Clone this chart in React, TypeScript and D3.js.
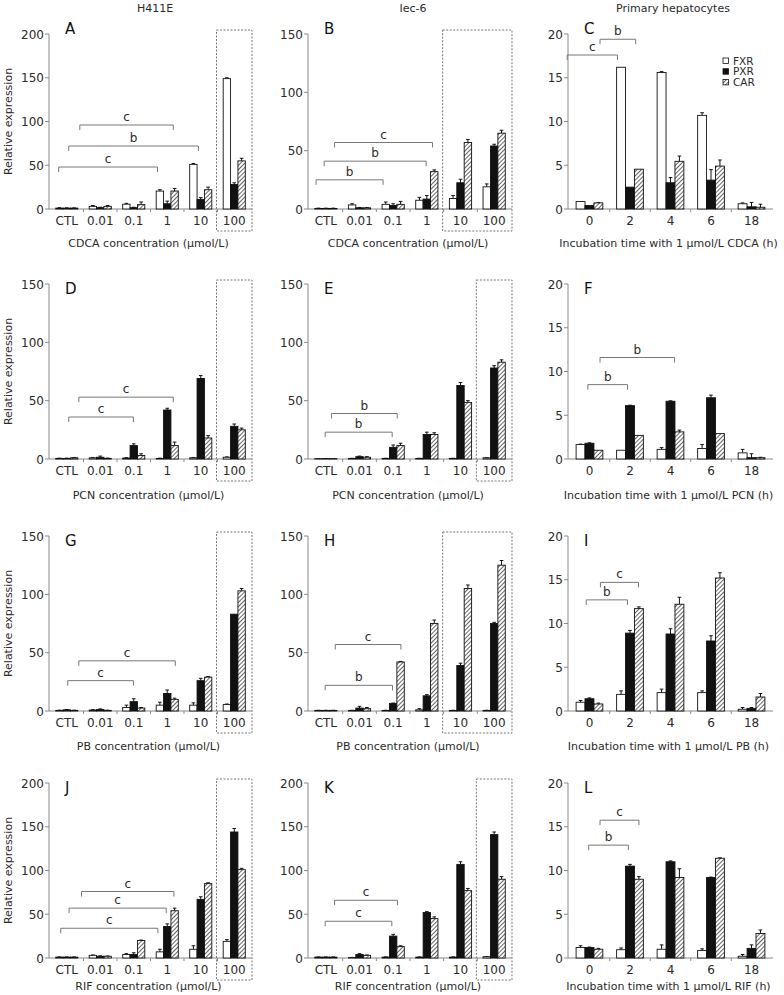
import React from "react";
import * as d3 from "d3";

const concCats = ["CTL", "0.01", "0.1", "1", "10", "100"];
const timeCats = ["0", "2", "4", "6", "18"];
const seriesNames = ["FXR", "PXR", "CAR"];
const columnTitles = ["H411E", "Iec-6", "Primary hepatocytes"];
const drugs = ["CDCA", "PCN", "PB", "RIF"];

// A - H411E, CDCA
const fxrA = [1, 3, 5.5, 20.5, 51, 149];
const pxrA = [1, 1.5, 1.5, 6, 11, 28];
const carA = [1, 3, 5, 20.5, 22, 55];
const errA = [[0.5, 1, 1, 1.5, 1, 1], [0.3, 0.5, 0.5, 3, 2, 2], [0.3, 1, 3, 3, 3, 3]];
// B - Iec-6, CDCA
const fxrB = [0.5, 3.5, 4, 7.5, 9, 19];
const pxrB = [0.5, 1, 3, 8.5, 22.5, 54];
const carB = [0.5, 1, 4, 32, 57, 65];
const errB = [[0.2, 1, 2, 2.5, 2.5, 2.5], [0.2, 0.3, 1.5, 3, 3, 1.5], [0.2, 0.3, 2.5, 1.5, 2.5, 2.5]];
// C - hepatocytes, CDCA
const fxrC = [0.85, 16.2, 15.6, 10.7, 0.6];
const pxrC = [0.4, 2.5, 3.0, 3.3, 0.25];
const carC = [0.7, 4.55, 5.45, 4.9, 0.2];
const errC = [[0, 0, 0.1, 0.3, 0.1], [0, 0, 0.6, 1.2, 0.5], [0.05, 0, 0.6, 0.7, 0.35]];
// D - H411E, PCN
const fxrD = [0.5, 1, 0.8, 0.5, 1, 1.5];
const pxrD = [0.5, 1.5, 11.5, 42, 69, 28];
const carD = [1, 0.5, 3, 11.5, 18, 25];
const errD = [[0.2, 0.3, 0.3, 0.2, 0.3, 0.3], [0.2, 1, 1.5, 1.5, 2.5, 2], [0.3, 0.3, 1.5, 3, 2, 1.5]];
// E - Iec-6, PCN
const fxrE = [0.3, 0.5, 0.5, 0.5, 0.5, 1];
const pxrE = [0.3, 2, 10, 21, 63, 78];
const carE = [0.3, 1.5, 11.5, 21, 48.5, 83];
const errE = [[0.1, 0.1, 0.1, 0.1, 0.1, 0.2], [0.1, 0.5, 2, 2, 2.5, 2], [0.1, 0.5, 2, 1.5, 1.5, 2]];
// F - hepatocytes, PCN
const fxrF = [1.65, 1.0, 1.1, 1.2, 0.7];
const pxrF = [1.8, 6.1, 6.6, 7.0, 0.15];
const carF = [1.0, 2.7, 3.1, 2.9, 0.15];
const errF = [[0.05, 0, 0.2, 0.45, 0.4], [0.05, 0.05, 0.05, 0.3, 0.45], [0, 0, 0.2, 0, 0.05]];
// G - H411E, PB
const fxrG = [0.5, 0.8, 3, 5, 5, 5.5];
const pxrG = [1, 1.3, 8, 15, 26, 83];
const carG = [0.5, 0.5, 2.5, 10, 29, 103];
const errG = [[0.2, 0.3, 2, 2.5, 2, 0.5], [0.3, 0.5, 2.5, 3, 2, 0], [0.2, 0.2, 0.5, 1, 0.5, 2]];
// H - Iec-6, PB
const fxrH = [0.5, 0.5, 0.5, 1, 0.5, 0.5];
const pxrH = [0.5, 2.5, 6.5, 13, 39, 75];
const carH = [0.5, 2, 42, 75, 105, 125];
const errH = [[0.1, 0.1, 0.1, 1, 0.1, 0.1], [0.1, 1.5, 0.3, 1, 2, 1], [0.1, 1, 0.5, 3, 3, 4]];
// I - hepatocytes, PB
const fxrI = [1.0, 1.9, 2.1, 2.1, 0.2];
const pxrI = [1.4, 8.9, 8.8, 8.0, 0.3];
const carI = [0.8, 11.7, 12.2, 15.2, 1.6];
const errI = [[0.2, 0.4, 0.4, 0.2, 0.2], [0.1, 0.3, 0.6, 0.6, 0.1], [0.1, 0.2, 0.8, 0.6, 0.4]];
// J - H411E, RIF
const fxrJ = [1, 3, 4, 7, 10, 19];
const pxrJ = [1, 2, 4, 36, 67, 144];
const carJ = [1, 2, 20, 54, 85, 101];
const errJ = [[0.2, 0.5, 1, 3, 4, 2], [0.2, 0.5, 2, 3, 3, 4], [0.2, 0.3, 0.5, 3, 1, 1.5]];
// K - Iec-6, RIF
const fxrK = [1, 0.5, 1, 1, 1, 1.5];
const pxrK = [1, 4, 25, 52, 107, 141];
const carK = [1, 3, 13, 45, 77, 90];
const errK = [[0.2, 0.2, 0.2, 0.2, 0.2, 0.2], [0.2, 1, 2, 1, 3, 3], [0.2, 0.5, 1, 2, 2.5, 3]];
// L - hepatocytes, RIF
const fxrL = [1.2, 0.95, 1.0, 0.85, 0.2];
const pxrL = [1.2, 10.5, 11.0, 9.2, 1.1];
const carL = [1.0, 9.0, 9.2, 11.4, 2.8];
const errL = [[0.2, 0.2, 0.5, 0.2, 0.2], [0.05, 0.2, 0.1, 0.05, 0.4], [0.1, 0.3, 1.0, 0.05, 0.4]];

// significance brackets: [from (category units), to, y value, label]
const brA = [[0.39, 3.18, 96, "c"], [0.06, 3.93, 72, "b"], [-0.24, 2.71, 48, "c"]];
const brB = [[0.26, 3.17, 57, "c"], [-0.05, 2.98, 41, "b"], [-0.29, 1.7, 25, "b"]];
const brC = [[-0.55, 0.69, 17.6, "c"], [0.26, 1.14, 19.4, "b"]];
const brD = [[0.36, 3.18, 53, "c"], [0.06, 1.99, 36, "c"]];
const brE = [[0.17, 2.12, 39, "b"], [-0.02, 1.97, 23, "b"]];
const brF = [[0.26, 2.1, 11.6, "b"], [-0.04, 0.94, 8.5, "b"]];
const brG = [[0.36, 3.24, 43, "c"], [0.03, 1.99, 26, "c"]];
const brH = [[0.28, 2.23, 57, "c"], [-0.02, 1.98, 22, "b"]];
const brI = [[0.27, 1.21, 14.7, "c"], [-0.08, 0.94, 12.7, "b"]];
const brJ = [[0.44, 3.2, 76, "c"], [0.07, 2.97, 57, "c"], [-0.18, 2.72, 34, "c"]];
const brK = [[0.26, 2.13, 66, "c"], [-0.02, 1.96, 42, "c"]];
const brL = [[0.26, 1.22, 15.75, "c"], [-0.02, 0.96, 12.9, "b"]];

const yMaxes = [200, 150, 20, 150, 150, 20, 150, 150, 20, 200, 200, 20];

const panels = [
  { letter: "A", vals: [fxrA, pxrA, carA], errs: errA, br: brA, box: ["100"] },
  { letter: "B", vals: [fxrB, pxrB, carB], errs: errB, br: brB, box: ["10", "100"] },
  { letter: "C", vals: [fxrC, pxrC, carC], errs: errC, br: brC, box: [] },
  { letter: "D", vals: [fxrD, pxrD, carD], errs: errD, br: brD, box: ["100"] },
  { letter: "E", vals: [fxrE, pxrE, carE], errs: errE, br: brE, box: ["100"] },
  { letter: "F", vals: [fxrF, pxrF, carF], errs: errF, br: brF, box: [] },
  { letter: "G", vals: [fxrG, pxrG, carG], errs: errG, br: brG, box: ["100"] },
  { letter: "H", vals: [fxrH, pxrH, carH], errs: errH, br: brH, box: ["10", "100"] },
  { letter: "I", vals: [fxrI, pxrI, carI], errs: errI, br: brI, box: [] },
  { letter: "J", vals: [fxrJ, pxrJ, carJ], errs: errJ, br: brJ, box: ["100"] },
  { letter: "K", vals: [fxrK, pxrK, carK], errs: errK, br: brK, box: ["100"] },
  { letter: "L", vals: [fxrL, pxrL, carL], errs: errL, br: brL, box: [] },
];

// layout
const colX = [49, 308, 568];
const colW = [203, 204, 205];
const rowTop = [34, 284, 536, 783];
const plotH = 175;
const titleDy = [38, 40, 39, 32];
const letterDy = [0, 10, 10, 10];
const font = "DejaVu Sans, Verdana, sans-serif";
const axisColor = "#8a8a8a";
const textColor = "#2a2a2a";
const fills = ["#fff", "#111", "url(#hatch)"];

const Panel = ({ p, row, col }) => {
  const cats = col === 2 ? timeCats : concCats;
  const ax = colX[col];
  const top = rowTop[row];
  const zero = top + plotH;
  const max = yMaxes[row * 3 + col];
  const x0 = d3.scaleBand().domain(cats).range([ax, ax + colW[col]]).paddingInner(0.34).paddingOuter(0.2);
  const x1 = d3.scaleBand().domain(seriesNames).range([0, x0.bandwidth()]);
  const y = d3.scaleLinear().domain([0, max]).range([zero, top]);
  const ticks = d3.range(0, max + 1, max === 20 ? 5 : 50);
  const c0 = x0(cats[0]) + x0.bandwidth() / 2;
  const cu = (u) => c0 + u * x0.step();
  const half = x0.step() / 2;
  const title =
    col === 2
      ? `Incubation time with 1 μmol/L ${drugs[row]} (h)`
      : `${drugs[row]} concentration (μmol/L)`;

  return (
    <g>
      {p.box.length > 0 && (
        <rect
          x={x0(p.box[0]) + x0.bandwidth() / 2 - half - 1}
          y={top - 4}
          width={x0(p.box[p.box.length - 1]) - x0(p.box[0]) + 2 * half + 2}
          height={plotH + 26}
          fill="none"
          stroke="#777"
          strokeWidth={1}
          strokeDasharray="2,1.5"
        />
      )}
      {/* y axis */}
      <line x1={ax} x2={ax} y1={top} y2={zero} stroke={axisColor} />
      {ticks.map((t) => (
        <g key={t}>
          <line x1={ax - 4} x2={ax} y1={y(t)} y2={y(t)} stroke={axisColor} />
          <text x={ax - 5} y={y(t) + 4.5} textAnchor="end" fontSize={12} fill={textColor}>
            {t}
          </text>
        </g>
      ))}
      {/* x axis */}
      <line x1={ax} x2={ax + colW[col]} y1={zero} y2={zero} stroke={axisColor} />
      {cats.slice(1).map((c) => (
        <line key={c} x1={x0(c) - (x0.step() - x0.bandwidth()) / 2} x2={x0(c) - (x0.step() - x0.bandwidth()) / 2}
          y1={zero} y2={zero + 3} stroke={axisColor} />
      ))}
      {cats.map((c) => (
        <text key={c} x={x0(c) + x0.bandwidth() / 2} y={zero + 16} textAnchor="middle" fontSize={12} fill={textColor}>
          {c}
        </text>
      ))}
      {/* bars */}
      {seriesNames.map((s, si) =>
        cats.map((c, ci) => {
          const v = p.vals[si][ci];
          const e = p.errs[si][ci];
          const bx = x0(c) + x1(s);
          const cx = bx + x1.bandwidth() / 2;
          return (
            <g key={s + c}>
              {e > 0 && (
                <path
                  d={`M${cx},${y(v)}V${y(v + e)}M${cx - 1.8},${y(v + e)}H${cx + 1.8}`}
                  stroke="#111"
                  strokeWidth={1}
                  fill="none"
                />
              )}
              <rect x={bx} y={y(v)} width={x1.bandwidth()} height={zero - y(v)} fill={fills[si]} stroke="#111" strokeWidth={0.9} />
            </g>
          );
        })
      )}
      {/* brackets */}
      {p.br.map(([a, b, v, lab], i) => {
        const yb = y(v);
        return (
          <g key={i}>
            <path d={`M${cu(a)},${yb + 5}V${yb}H${cu(b)}V${yb + 5}`} fill="none" stroke="#777" strokeWidth={1} />
            <text x={(cu(a) + cu(b)) / 2} y={yb - 4} textAnchor="middle" fontSize={12} fill={textColor}>
              {lab}
            </text>
          </g>
        );
      })}
      <text x={ax + 16} y={top + letterDy[row]} fontSize={15} fill="#111">
        {p.letter}
      </text>
      <text x={ax + colW[col] / 2 - 2} y={zero + titleDy[row]} textAnchor="middle" fontSize={11} fill={textColor}>
        {title}
      </text>
      {col === 0 && (
        <text
          transform={`translate(12,${(top + zero) / 2}) rotate(-90)`}
          textAnchor="middle"
          fontSize={11}
          fill={textColor}
        >
          Relative expression
        </text>
      )}
      {row === 0 && col === 2 && (
        <g>
          {seriesNames.map((s, i) => (
            <g key={s} transform={`translate(723,${61 + i * 10.7})`}>
              <rect x={0} y={-3} width={5.5} height={5.5} fill={fills[i]} stroke="#111" strokeWidth={0.8} />
              <text x={10} y={3.5} fontSize={10.5} fill={textColor}>
                {s}
              </text>
            </g>
          ))}
        </g>
      )}
    </g>
  );
};

export default function App() {
  return (
    <div style={{ position: "absolute", left: 0, top: 0 }}>
      <svg width={784} height={995} style={{ display: "block", background: "#fff", fontFamily: font }}>
        <defs>
          <pattern id="hatch" patternUnits="userSpaceOnUse" width={3} height={3} patternTransform="rotate(45)">
            <rect width={3} height={3} fill="#fff" />
            <line x1={0} y1={0} x2={0} y2={3} stroke="#111" strokeWidth={1.3} />
          </pattern>
        </defs>
        {columnTitles.map((t, i) => (
          <text key={t} x={[155, 413, 673][i]} y={12} textAnchor="middle" fontSize={11} fill={textColor}>
            {t}
          </text>
        ))}
        {panels.map((p, i) => (
          <Panel key={p.letter} p={p} row={Math.floor(i / 3)} col={i % 3} />
        ))}
      </svg>
    </div>
  );
}
